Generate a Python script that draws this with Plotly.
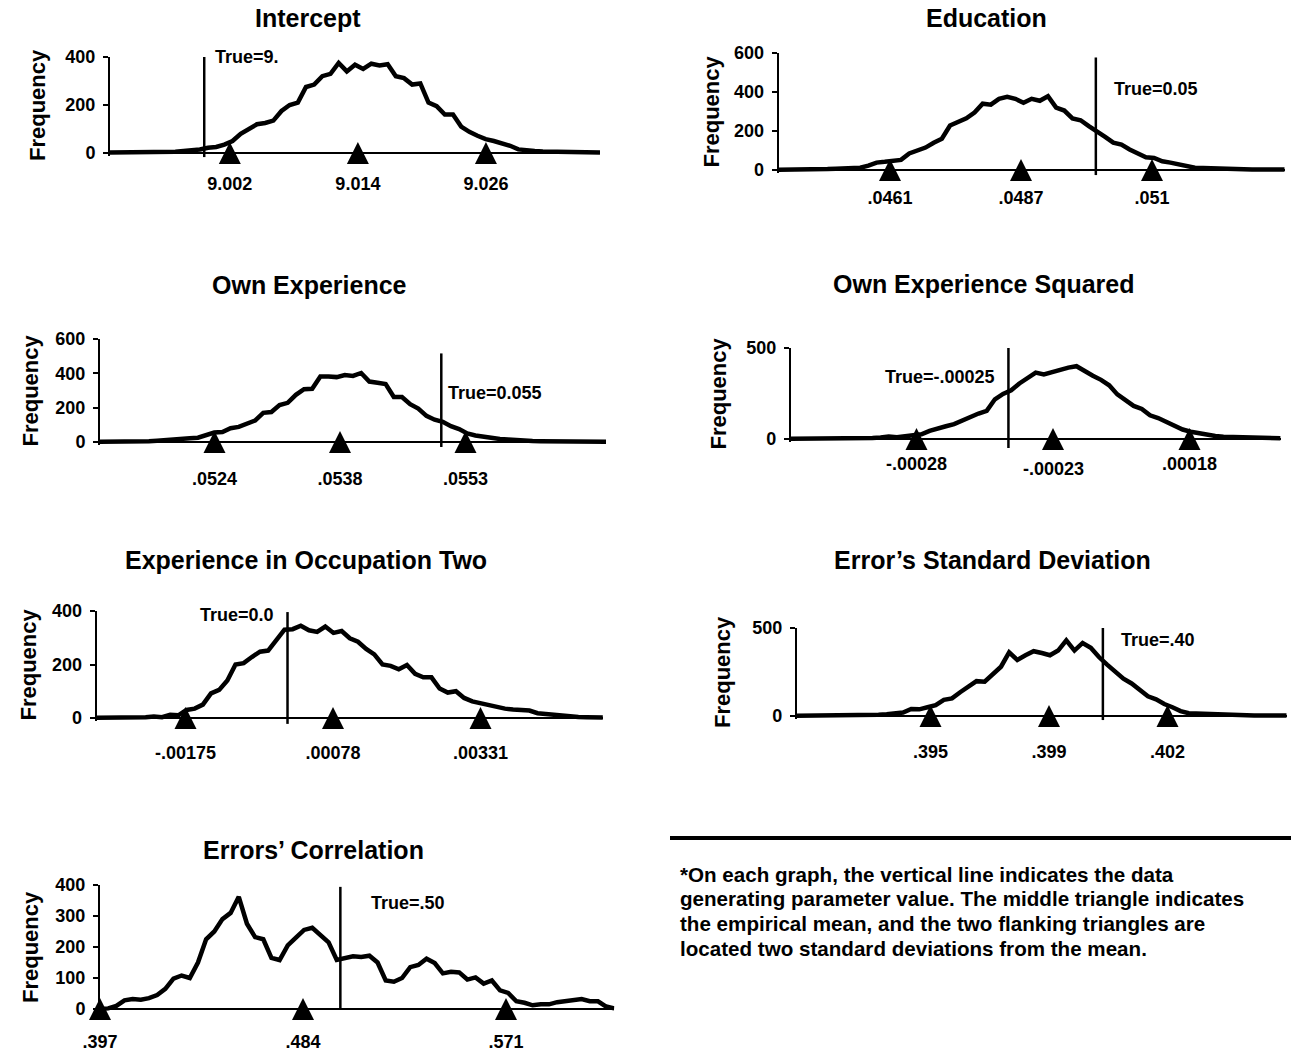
import plotly.graph_objects as go
import numpy as np

W, H = 1291, 1051
FONT = "Liberation Sans, Arial, sans-serif"

# ---------------- data ----------------
titles = ["Intercept", "Education", "Own Experience", "Own Experience Squared",
          "Experience in Occupation Two", "Error\u2019s Standard Deviation", "Errors\u2019 Correlation"]

# Intercept
int_freq = [2, 2, 1, 2, 2, 3, 3, 3, 5, 8,
            10, 15, 22, 25, 35, 50, 80, 100, 120, 125,
            135, 175, 200, 210, 275, 285, 320, 330, 375, 340,
            368, 350, 372, 365, 370, 320, 312, 285, 290, 210,
            195, 160, 160, 110, 88, 72, 58, 50, 42, 30,
            15, 10, 8, 6, 5, 4, 3, 3, 2, 3, 2]
int_xrange = [8.99117, 9.03709]
int_tri = [9.0024, 9.0144, 9.0264]
int_tri_labels = ["9.002", "9.014", "9.026"]
int_true = 9.0
int_true_label = "True=9."
int_yticks = [0, 200, 400]

# Education
edu_freq = [1, 1, 1, 2, 2, 4, 5, 7, 10, 12,
            12, 22, 38, 42, 45, 52, 85, 100, 115, 140,
            160, 228, 245, 265, 295, 340, 335, 365, 375, 365,
            345, 365, 355, 378, 320, 305, 265, 255, 225, 200,
            170, 140, 130, 105, 85, 65, 62, 45, 38, 28,
            20, 12, 10, 8, 6, 5, 4, 3, 3, 2,
            2, 2, 2]
edu_xrange = [0.044067, 0.053532]
edu_tri = [0.04615, 0.0486, 0.05105]
edu_tri_labels = [".0461", ".0487", ".051"]
edu_true = 0.05
edu_true_label = "True=0.05"
edu_yticks = [0, 200, 400, 600]

# Own Experience
exp_freq = [1, 1, 1, 2, 2, 3, 5, 8, 10, 14,
            18, 22, 25, 40, 55, 58, 80, 88, 108, 125,
            170, 175, 215, 228, 275, 308, 310, 382, 382, 378,
            390, 385, 402, 352, 345, 338, 262, 262, 220, 195,
            152, 130, 118, 92, 75, 50, 38, 30, 24, 17,
            14, 10, 8, 6, 5, 4, 3, 2, 2, 2,
            2, 2, 2]
exp_xrange = [0.051057, 0.056903]
exp_tri = [0.05238, 0.05383, 0.05528]
exp_tri_labels = [".0524", ".0538", ".0553"]
exp_true = 0.055
exp_true_label = "True=0.055"
exp_yticks = [0, 200, 400, 600]

# Own Experience Squared
exp2_freq = [1, 1, 1, 2, 2, 2, 3, 3, 4, 5,
             6, 8, 14, 10, 15, 20, 26, 45, 55, 70,
             82, 102, 118, 140, 155, 218, 248, 268, 305, 338,
             365, 355, 368, 385, 392, 400, 372, 348, 325, 295,
             245, 210, 182, 165, 130, 115, 92, 72, 52, 40,
             30, 22, 16, 12, 10, 8, 6, 5, 5, 4,
             4]
exp2_xrange = [-0.00032812, -0.0001523]
exp2_tri = [-0.000283, -0.000234, -0.000185]
exp2_tri_labels = ["-.00028", "-.00023", ".00018"]
exp2_true = -0.00025
exp2_true_label = "True=-.00025"
exp2_yticks = [0, 500]

# Experience in Occupation Two
occ_freq = [1, 1, 1, 1, 2, 2, 3, 6, 3, 12,
            10, 30, 35, 50, 92, 105, 140, 200, 205, 228,
            248, 252, 288, 330, 332, 345, 328, 322, 342, 318,
            325, 298, 285, 258, 238, 200, 195, 182, 198, 165,
            152, 152, 110, 95, 100, 75, 62, 55, 48, 45,
            35, 32, 30, 28, 18, 15, 10, 8, 5, 4,
            3, 2, 2]
occ_xrange = [-0.003273, 0.005410]
occ_tri = [-0.00175, 0.00078, 0.00331]
occ_tri_labels = ["-.00175", ".00078", ".00331"]
occ_true = 0.0
occ_true_label = "True=0.0"
occ_yticks = [0, 200, 400]

# Error's Standard Deviation
sd_freq = [1, 1, 1, 1, 2, 2, 3, 3, 4, 5,
           7, 10, 18, 20, 40, 38, 50, 62, 92, 100,
           135, 165, 198, 195, 240, 280, 362, 318, 345, 368,
           358, 345, 372, 430, 372, 415, 388, 335, 292, 250,
           212, 185, 150, 112, 95, 68, 50, 28, 16, 14,
           12, 8, 6, 5, 4, 3, 3, 3, 3, 3,
           3]
sd_xrange = [0.391479, 0.405119]
sd_tri = [0.3952, 0.3985, 0.4018]
sd_tri_labels = [".395", ".399", ".402"]
sd_true = 0.40
sd_true_label = "True=.40"
sd_yticks = [0, 500]

# Errors' Correlation
cor_freq = [0, 2, 10, 28, 32, 30, 35, 45, 65, 98,
            108, 100, 150, 225, 250, 290, 310, 362, 275, 232,
            225, 165, 158, 205, 230, 255, 262, 240, 215, 158,
            165, 170, 168, 172, 150, 92, 88, 100, 135, 142,
            162, 148, 115, 120, 118, 95, 102, 82, 92, 60,
            52, 25, 20, 12, 15, 15, 22, 25, 30, 32,
            25, 25, 8, 2]
cor_xrange = [0.397, 0.6174]
cor_tri = [0.397, 0.484, 0.571]
cor_tri_labels = [".397", ".484", ".571"]
cor_true = 0.50
cor_true_label = "True=.50"
cor_yticks = [0, 100, 200, 300, 400]

footnote_lines = [
    "*On each graph, the vertical line indicates the data",
    "generating parameter value. The middle triangle indicates",
    "the empirical mean, and the two flanking triangles are",
    "located two standard deviations from the mean.",
]

data_sets = [
    (int_freq, int_xrange, int_tri, int_tri_labels, int_true, int_true_label, int_yticks),
    (edu_freq, edu_xrange, edu_tri, edu_tri_labels, edu_true, edu_true_label, edu_yticks),
    (exp_freq, exp_xrange, exp_tri, exp_tri_labels, exp_true, exp_true_label, exp_yticks),
    (exp2_freq, exp2_xrange, exp2_tri, exp2_tri_labels, exp2_true, exp2_true_label, exp2_yticks),
    (occ_freq, occ_xrange, occ_tri, occ_tri_labels, occ_true, occ_true_label, occ_yticks),
    (sd_freq, sd_xrange, sd_tri, sd_tri_labels, sd_true, sd_true_label, sd_yticks),
    (cor_freq, cor_xrange, cor_tri, cor_tri_labels, cor_true, cor_true_label, cor_yticks),
]

# ---------------- layout (pixel geometry / styling) ----------------
# xd: x-axis pixel span; yd: (pixel of top tick, pixel of zero)
geom = [
    dict(xd=(110, 600), yd=(57, 153), title=(308, 18), freq_x=38, tline=(-17, 400),
         tlab=(398, "left", 9), standoff=15),
    dict(xd=(778.6, 1284.7), yd=(53, 170), title=(986, 18), freq_x=711, tline=(-26, 577),
         tlab=(415, "left", 16), standoff=12),
    dict(xd=(100, 606), yd=(339, 442), title=(309, 285), freq_x=30, tline=(-29, 516),
         tlab=(285, "left", 5), standoff=21),
    dict(xd=(790.8, 1280.6), yd=(348, 439), title=(984, 284), freq_x=718, tline=(-50, 500),
         tlab=(341, "right", -11), standoff=9),
    dict(xd=(96.7, 602.9), yd=(611, 718), title=(306, 560), freq_x=28, tline=(-22, 396),
         tlab=(385, "right", -12), standoff=19),
    dict(xd=(796.9, 1286.7), yd=(628, 716), title=(992, 560), freq_x=722, tline=(-23, 500),
         tlab=(432, "left", 16), standoff=20),
    dict(xd=(100, 614.3), yd=(885, 1009), title=(313, 850), freq_x=30, tline=(0, 394),
         tlab=(342, "left", 29), standoff=17),
]
TRI_SIZE = 22      # px, marker width and height
BELOW_PX = 3       # px of room below zero so the thick curve is not clipped

def px2x(p):
    return p / W

def px2y(p):
    return 1 - p / H

fig = go.Figure()
shapes = []
annotations = []
layout_axes = {}
tfont = dict(family=FONT, size=18, color="black", weight="bold")

for i, ((freq, xr, tri, tri_lab, true_v, true_lab, yt), g) in enumerate(zip(data_sets, geom)):
    n = i + 1
    xa = "x" if n == 1 else f"x{n}"
    ya = "y" if n == 1 else f"y{n}"
    top_px, zero_px = g["yd"]
    units_per_px = yt[-1] / (zero_px - top_px)
    y_lo = -BELOW_PX * units_per_px
    yrange = [y_lo, yt[-1]]
    xs = np.linspace(xr[0], xr[1], len(freq))
    # frequency polygon
    fig.add_trace(go.Scatter(x=xs, y=freq, xaxis=xa, yaxis=ya, mode="lines",
                             line=dict(color="black", width=4.5), cliponaxis=False,
                             showlegend=False, hoverinfo="skip"))
    # triangles at mean and mean +/- 2 sd, centred on the zero line
    fig.add_trace(go.Scatter(x=list(tri), y=[TRI_SIZE / 2 * units_per_px] * len(tri),
                             xaxis=xa, yaxis=ya, mode="markers", cliponaxis=False,
                             marker=dict(symbol="arrow-up", size=TRI_SIZE, color="black",
                                         line=dict(width=0)),
                             showlegend=False, hoverinfo="skip"))
    # true value vertical line (shape so it may extend below the axis)
    def dom(v):
        return (v - yrange[0]) / (yrange[1] - yrange[0])
    shapes.append(dict(type="line", xref=xa, yref=f"{ya} domain", x0=true_v, x1=true_v,
                       y0=dom(g["tline"][0]), y1=dom(g["tline"][1]),
                       line=dict(color="black", width=2.5)))
    ticks_v = list(tri)
    ticks_t = list(tri_lab)
    if n == 4:
        ticks_v = [tri[0], tri[2]]
        ticks_t = [tri_lab[0], tri_lab[2]]
        annotations.append(dict(x=tri[1], y=0, xref=xa, yref=ya, text=tri_lab[1],
                                showarrow=False, yanchor="middle", yshift=-30, font=tfont))
    layout_axes["xaxis" if n == 1 else f"xaxis{n}"] = dict(
        domain=[px2x(g["xd"][0]), px2x(g["xd"][1])], anchor=ya, range=list(xr),
        showline=False, showgrid=False, zeroline=False,
        ticks="", tickvals=ticks_v, ticktext=ticks_t, ticklabelstandoff=g["standoff"],
        tickfont=tfont, fixedrange=True)
    layout_axes["yaxis" if n == 1 else f"yaxis{n}"] = dict(
        domain=[px2y(zero_px + BELOW_PX), px2y(top_px)], anchor=xa, range=yrange,
        showline=True, linecolor="black", linewidth=2, showgrid=False,
        zeroline=True, zerolinecolor="black", zerolinewidth=2,
        ticks="outside", ticklen=5, tickwidth=2, tickcolor="black", tickvals=yt,
        ticklabelstandoff=4, tickfont=tfont, fixedrange=True)
    annotations.append(dict(x=true_v, y=g["tlab"][0], xref=xa, yref=ya, text=true_lab,
                            showarrow=False, xanchor=g["tlab"][1], xshift=g["tlab"][2],
                            yanchor="middle", font=tfont))
    annotations.append(dict(x=px2x(g["title"][0]), y=px2y(g["title"][1]), xref="paper", yref="paper",
                            text=titles[i], showarrow=False, xanchor="center", yanchor="middle",
                            font=dict(family=FONT, size=25, color="black", weight="bold")))
    yc = (top_px + zero_px) / 2
    annotations.append(dict(x=px2x(g["freq_x"]), y=px2y(yc), xref="paper", yref="paper",
                            text="Frequency", textangle=-90, showarrow=False,
                            xanchor="center", yanchor="middle",
                            font=dict(family=FONT, size=22, color="black", weight="bold")))

# footnote
shapes.append(dict(type="line", xref="paper", yref="paper", x0=px2x(670), x1=1,
                   y0=px2y(838), y1=px2y(838), line=dict(color="black", width=4)))
for k, line in enumerate(footnote_lines):
    annotations.append(dict(x=px2x(678), y=px2y(874 + 24.7 * k), xref="paper", yref="paper",
                            text=line, showarrow=False, xanchor="left", yanchor="middle",
                            font=dict(family=FONT, size=20.6, color="black", weight="bold")))

fig.update_layout(width=W, height=H, margin=dict(l=0, r=0, t=0, b=0, autoexpand=False),
                  paper_bgcolor="white", plot_bgcolor="white",
                  shapes=shapes, annotations=annotations, showlegend=False,
                  **layout_axes)

fig.write_html("out.html", config={"displayModeBar": False},
               post_script="document.body.style.margin='0';document.body.style.overflow='hidden';")
